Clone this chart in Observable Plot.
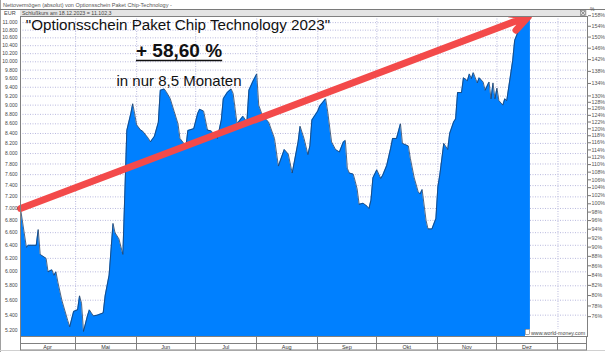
<!DOCTYPE html>
<html><head><meta charset="utf-8">
<script src="https://cdn.jsdelivr.net/npm/d3@7"></script>
<script src="https://cdn.jsdelivr.net/npm/@observablehq/plot@0.6"></script>
<style>
body{margin:0;background:#fff;}
#chart{position:relative;width:605px;height:352px;overflow:hidden;background:#fff}
svg text{font-family:"Liberation Sans",Arial,sans-serif}
</style></head><body><div id="chart"></div>
<script>
// ---- data ----
const dates = [
"2023-04-03","2023-04-06","2023-04-07","2023-04-11","2023-04-12","2023-04-13","2023-04-16","2023-04-17","2023-04-19","2023-04-20","2023-04-21","2023-04-22","2023-04-24","2023-04-27","2023-04-28","2023-04-30",
"2023-05-02","2023-05-03","2023-05-04","2023-05-05","2023-05-07","2023-05-08","2023-05-10","2023-05-12","2023-05-15","2023-05-16","2023-05-18","2023-05-20","2023-05-21","2023-05-23","2023-05-25","2023-05-27","2023-05-29","2023-05-30","2023-05-31",
"2023-06-01","2023-06-03","2023-06-04","2023-06-07","2023-06-08","2023-06-10","2023-06-12","2023-06-13","2023-06-15","2023-06-16","2023-06-18","2023-06-20","2023-06-22","2023-06-23","2023-06-25","2023-06-26","2023-06-27","2023-06-30",
"2023-07-02","2023-07-03","2023-07-05","2023-07-07","2023-07-09","2023-07-10","2023-07-12","2023-07-14","2023-07-15","2023-07-17","2023-07-19","2023-07-20","2023-07-22","2023-07-25","2023-07-27","2023-07-28","2023-07-30",
"2023-08-01","2023-08-02","2023-08-04","2023-08-07","2023-08-10","2023-08-12","2023-08-15","2023-08-17","2023-08-19","2023-08-20","2023-08-22","2023-08-23","2023-08-25","2023-08-27","2023-08-28","2023-08-29",
"2023-09-01","2023-09-02","2023-09-05","2023-09-06","2023-09-08","2023-09-10","2023-09-12","2023-09-14","2023-09-15","2023-09-16","2023-09-17","2023-09-19","2023-09-20","2023-09-21","2023-09-22","2023-09-24","2023-09-26","2023-09-27","2023-09-28","2023-09-29",
"2023-10-01","2023-10-03","2023-10-04","2023-10-06","2023-10-08","2023-10-09","2023-10-11","2023-10-13","2023-10-14","2023-10-17","2023-10-18","2023-10-20","2023-10-22","2023-10-23","2023-10-24","2023-10-26","2023-10-27","2023-10-29","2023-10-31",
"2023-11-01","2023-11-02","2023-11-04","2023-11-06","2023-11-07","2023-11-09","2023-11-10","2023-11-11","2023-11-13","2023-11-14","2023-11-16","2023-11-17","2023-11-18","2023-11-19","2023-11-21","2023-11-22","2023-11-24","2023-11-25","2023-11-27","2023-11-28","2023-11-29","2023-11-30",
"2023-12-01","2023-12-02","2023-12-04","2023-12-05","2023-12-06","2023-12-09","2023-12-10","2023-12-12","2023-12-14","2023-12-15","2023-12-16","2023-12-18"
];
const values = [
7000,6370,6400,6400,6650,6260,6200,6000,6030,5950,6000,5850,5600,5330,5250,5450,
5470,5660,5560,5190,5390,5470,5390,5400,5430,5660,5950,6750,6600,6500,6260,8460,8810,9030,8810,
8580,8470,8450,8300,8230,8340,8630,9330,9360,9300,9150,8870,8600,8300,8200,8120,8460,8500,
8820,8910,8870,8470,8450,8380,8300,8680,9140,9280,9360,9260,8600,8760,8640,9330,9530,
9710,9000,8760,8640,8300,7760,8080,7990,7630,7820,8230,8550,8300,7980,8150,8680,
8870,8980,9140,8870,8230,8080,8030,8230,8260,7720,7630,7610,7480,7340,7070,7090,7040,7000,7140,7540,
7690,7530,7590,7770,8100,8300,8300,8600,8200,8150,7910,7540,7290,7250,7330,6800,6660,6660,6830,
7380,7600,8200,8080,8400,8640,8700,9280,9280,9620,9550,9710,9600,9740,9500,9620,9520,9330,9520,9140,9500,9140,
9380,9100,9000,9140,9100,10030,10530,10790,11000,11150,11130,11102
];
const leftTicks = [5200,5400,5600,5800,6000,6200,6400,6600,6800,7000,7200,7400,7600,7800,8000,8200,8400,8600,8800,9000,9200,9400,9600,9800,10000,10200,10400,10600,10800,11000];
const pctTicks = [158,154,150,146,142,138,134,130,128,126,124,122,120,118,116,114,112,110,108,106,104,102,100,98,96,94,92,90,88,86,84,82,80,78,76];
const pctBase = 7080;
const months = ["Apr","Mai","Jun","Jul","Aug","Sep","Okt","Nov","Dez"];
const monthStarts = ["2023-05-01","2023-06-01","2023-07-01","2023-08-01","2023-09-01","2023-10-01","2023-11-01","2023-12-01","2024-01-01"];
const xStart = "2023-04-03", xEnd = "2024-01-16";
const yMin = 5127, yMax = 11165;
const arrowFrom = ["2023-04-03", 7000];
const arrowTo = ["2023-12-17", 11170];
const headerText = "Nettovermögen (absolut) von Optionsschein Paket Chip-Technology -";
const closeText = "Schlußkurs am 18.12.2023 = 11.102,3";
const titleText = "\"Optionsschein Paket Chip Technology 2023\"";
const gainText = "+ 58,60 %";
const durationText = "in nur 8,5 Monaten";
const copyText = "www.world-money.com";

// ---- build ----
const parse = d3.utcParse("%Y-%m-%d");
const data = dates.map((d, i) => ({date: parse(d), value: values[i]}));
const fmtEur = v => d3.format(",")(v).replace(/,/g, ".");
const W = 605, H = 352, mL = 20, mR = 18, mT = 16, mB = 16;

const plot = Plot.plot({
  width: W, height: H,
  marginLeft: mL, marginRight: mR, marginTop: mT, marginBottom: mB,
  style: {background: "white", fontFamily: "Liberation Sans, Arial, sans-serif", overflow: "visible"},
  x: {type: "utc", domain: [parse(xStart), parse(xEnd)], axis: null},
  y: {type: "log", domain: [yMin, yMax], axis: null},
  marks: [
    Plot.gridY(leftTicks, {stroke: "#b9b9de", strokeOpacity: 1, strokeDasharray: "1,1.5"}),
    Plot.gridX(monthStarts.map(parse), {stroke: "#b9b9de", strokeOpacity: 1, strokeDasharray: "1,1.5"}),
    Plot.areaY(data, {x: "date", y1: yMin, y2: "value", fill: "#0080ff"}),
    Plot.lineY(data, {x: "date", y: "value", stroke: "#1f3f66", strokeWidth: 0.8}),
    Plot.arrow([{x1: parse(arrowFrom[0]), y1: arrowFrom[1], x2: parse(arrowTo[0]), y2: arrowTo[1]}],
      {x1: "x1", y1: "y1", x2: "x2", y2: "y2", stroke: "#f34a4a", strokeWidth: 7, headLength: 4, headAngle: 55}),
    Plot.axisY(leftTicks, {anchor: "left", tickSize: 0, tickPadding: 3, tickFormat: fmtEur, fontSize: 5, fill: "#444", label: null}),
    Plot.axisY(pctTicks.map(p => p / 100 * pctBase), {anchor: "right", tickSize: 3, tickPadding: 1, stroke: "#777",
      tickFormat: v => Math.round(v / pctBase * 100) + "%", fontSize: 5.3, fill: "#555", label: null}),
    Plot.frame({stroke: "#808080"})
  ]
});
document.getElementById("chart").appendChild(plot);

// ---- chrome: header strip, bottom month rows, annotations ----
const svg = d3.select(plot);
const xs = plot.scale("x");
const X = d => xs.apply(parse(d));
const L = mL, R = W - mR, T = mT, B = H - mB;
const g = svg.append("g").attr("text-anchor", "start");

// outer border
g.append("line").attr("x1", 0.5).attr("x2", 0.5).attr("y1", 0).attr("y2", H).attr("stroke", "#a0a0a0");
g.append("line").attr("x1", 0).attr("x2", W).attr("y1", H - 1.5).attr("y2", H - 1.5).attr("stroke", "#d0d0d0");

// header
g.append("text").attr("x", 3).attr("y", 7).attr("font-size", 5.5).attr("fill", "#555").text(headerText);
g.append("line").attr("x1", 0).attr("x2", W).attr("y1", 9.5).attr("y2", 9.5).attr("stroke", "#7a7a7a");
g.append("rect").attr("x", L).attr("y", 10).attr("width", R - L).attr("height", 6).attr("fill", "#e4e4e4");
g.append("text").attr("x", 4).attr("y", 15).attr("font-size", 5.5).attr("fill", "#444").text("EUR");
g.append("text").attr("x", L + 2).attr("y", 15).attr("font-size", 5.3).attr("fill", "#444").text(closeText);
g.append("text").attr("x", R + 3).attr("y", 11).attr("font-size", 5).attr("fill", "#555").text("%");
g.append("rect").attr("x", R - 6.5).attr("y", 10.5).attr("width", 5).attr("height", 5).attr("fill", "#ddd").attr("stroke", "#777").attr("stroke-width", 0.6);
g.append("path").attr("d", `M${R-6},11 L${R-2},15 M${R-2},11 L${R-6},15`).attr("stroke", "#666").attr("stroke-width", 0.6);

// bottom rows
g.append("rect").attr("x", L + 0.5).attr("y", B + 0.5).attr("width", R - L - 1).attr("height", 13.5).attr("fill", "white").attr("stroke", "#808080");
g.append("line").attr("x1", L).attr("x2", R).attr("y1", B + 7.5).attr("y2", B + 7.5).attr("stroke", "#808080");
monthStarts.forEach(m => {
  const x = Math.round(X(m)) + 0.5;
  g.append("line").attr("x1", x).attr("x2", x).attr("y1", B).attr("y2", B + 14).attr("stroke", "#808080");
});
const bounds = [xStart, ...monthStarts];
months.forEach((m, i) => {
  g.append("text").attr("x", (X(bounds[i]) + X(bounds[i + 1])) / 2).attr("y", B + 13)
    .attr("text-anchor", "middle").attr("font-size", 5.5).attr("fill", "#333").text(m);
});

// copyright box
g.append("rect").attr("x", R - 62).attr("y", B - 7).attr("width", 61).attr("height", 7).attr("fill", "white");
g.append("rect").attr("x", R - 61.5).attr("y", B - 6.5).attr("width", 4).attr("height", 5).attr("fill", "none").attr("stroke", "#555").attr("stroke-width", 0.5);
g.append("text").attr("x", R - 56).attr("y", B - 1.5).attr("font-size", 5.3).attr("fill", "#444").text(copyText);

// annotations
const cx = 179;
g.append("text").attr("x", 178).attr("y", 30).attr("text-anchor", "middle").attr("font-size", 15.2).attr("fill", "#111").text(titleText);
const gain = g.append("text").attr("x", cx).attr("y", 57).attr("text-anchor", "middle").attr("font-size", 19).attr("font-weight", "bold").attr("fill", "#111").text(gainText);
const bb = gain.node().getBBox();
g.append("line").attr("x1", bb.x).attr("x2", bb.x + bb.width).attr("y1", 60.5).attr("y2", 60.5).attr("stroke", "#111").attr("stroke-width", 1.6);
g.append("text").attr("x", cx).attr("y", 86).attr("text-anchor", "middle").attr("font-size", 15).attr("fill", "#111").text(durationText);
</script>
</body></html>
